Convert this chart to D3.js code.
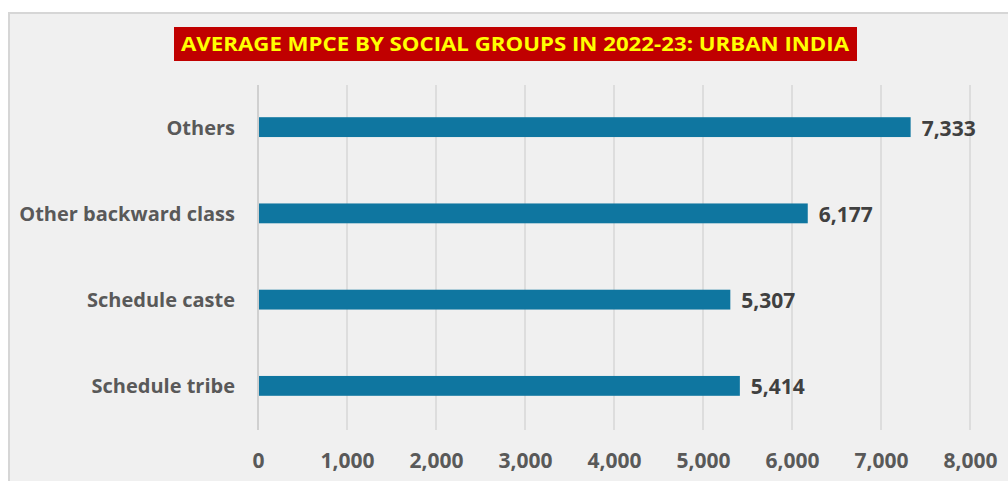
<!DOCTYPE html>
<html>
<head>
<meta charset="utf-8">
<script src="https://cdn.jsdelivr.net/npm/d3@7"></script>
<style>
  body { margin: 0; background: #ffffff; }
  svg { display: block; }
</style>
</head>
<body>
<div id="chart"></div>
<script>
var width = 1008;
var height = 481;

var titleText = 'AVERAGE MPCE BY SOCIAL GROUPS IN 2022-23: URBAN INDIA';
var categories = ['Others', 'Other backward class', 'Schedule caste', 'Schedule tribe'];
var mpceValues = [7333, 6177, 5307, 5414];
var tickValues = [0, 1000, 2000, 3000, 4000, 5000, 6000, 7000, 8000];

var margin = { top: 85, right: 38, bottom: 51, left: 258 };
var innerWidth = width - margin.left - margin.right;
var innerHeight = height - margin.top - margin.bottom;

var svg = d3.select('#chart').append('svg')
  .attr('width', width)
  .attr('height', height)
  .style('font-family', '"Open Sans", sans-serif');

// panel background (only left + top border are visible in the screenshot)
svg.append('rect')
  .attr('x', 9).attr('y', 13)
  .attr('width', width - 9).attr('height', height - 13)
  .attr('fill', '#f0f0f0');
svg.append('path')
  .attr('d', `M9,${height} V13 H${width}`)
  .attr('fill', 'none')
  .attr('stroke', '#d6d6d6')
  .attr('stroke-width', 2);

// title box
var titleG = svg.append('g');
titleG.append('rect')
  .attr('x', 174).attr('y', 27)
  .attr('width', 683).attr('height', 34)
  .attr('fill', '#c00000');
titleG.append('text')
  .attr('x', 515).attr('y', 51)
  .attr('text-anchor', 'middle')
  .attr('fill', '#ffff00')
  .attr('font-weight', 'bold')
  .attr('font-size', 20)
  .attr('textLength', 668)
  .attr('lengthAdjust', 'spacingAndGlyphs')
  .text(titleText);

var x = d3.scaleLinear().domain([0, 8000]).range([0, innerWidth]);
var y = d3.scaleBand().domain(categories).range([0, innerHeight]).paddingInner(0.77).paddingOuter(0.385);

var g = svg.append('g').attr('transform', `translate(${margin.left},${margin.top})`);

// vertical gridlines
g.append('g').attr('class', 'grid')
  .selectAll('line')
  .data(tickValues)
  .enter().append('line')
  .attr('x1', d => x(d)).attr('x2', d => x(d))
  .attr('y1', 0).attr('y2', innerHeight)
  .attr('stroke', d => d === 0 ? '#d0d0d0' : '#d3d3d3')
  .attr('stroke-width', d => d === 0 ? 2 : 1.3);

// bars
g.selectAll('rect.bar')
  .data(mpceValues)
  .enter().append('rect')
  .attr('class', 'bar')
  .attr('x', x(0) + 1)
  .attr('y', (d, i) => y(categories[i]) - 1)
  .attr('width', d => x(d) - x(0) - 1)
  .attr('height', y.bandwidth())
  .attr('fill', '#0f76a0');

// value labels
g.selectAll('text.val')
  .data(mpceValues)
  .enter().append('text')
  .attr('class', 'val')
  .attr('x', d => x(d) + 11)
  .attr('y', (d, i) => y(categories[i]) + y.bandwidth() / 2)
  .attr('dy', '0.36em')
  .attr('fill', '#404040')
  .attr('font-weight', 'bold')
  .attr('font-size', 21)
  .text(d => d3.format(',')(d));

// category axis
var yAxis = g.append('g')
  .call(d3.axisLeft(y).tickSize(0).tickPadding(23));
yAxis.select('.domain').remove();
yAxis.selectAll('text')
  .attr('fill', '#595959')
  .attr('font-weight', 'bold')
  .attr('font-size', 20)
  .style('font-family', '"Open Sans", sans-serif');

// value axis
var xAxis = g.append('g')
  .attr('transform', `translate(0,${innerHeight})`)
  .call(d3.axisBottom(x).tickValues(tickValues).tickFormat(d3.format(',')).tickSize(0).tickPadding(23));
xAxis.select('.domain').remove();
xAxis.selectAll('text')
  .attr('fill', '#595959')
  .attr('font-weight', 'bold')
  .attr('font-size', 21)
  .style('font-family', '"Open Sans", sans-serif');
</script>
</body>
</html>
